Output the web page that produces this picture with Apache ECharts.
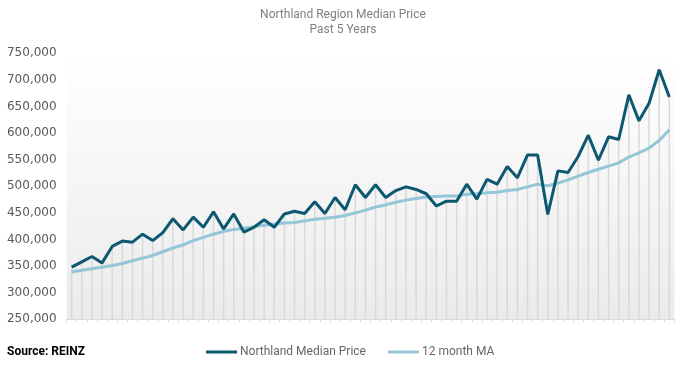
<!DOCTYPE html>
<html>
<head>
<meta charset="utf-8">
<script src="https://cdn.jsdelivr.net/npm/echarts@6/dist/echarts.min.js"></script>
<style>html,body{margin:0;padding:0;background:#fff}#c{width:686px;height:366px}</style>
</head>
<body>
<div id="c"></div>
<script>
const titleText = 'Northland Region Median Price';
const subtitleText = 'Past 5 Years';
const sourceText = 'Source: REINZ';
const seriesNames = ['Northland Median Price', '12 month MA'];
const months = Array.from({length: 60}, (_, i) => 'M' + (i + 1));
const medianPrice = [
  348000, 358000, 368000, 356000, 387000, 397000, 395000, 410000, 398000, 413000,
  439000, 418000, 442000, 423000, 452000, 420000, 448000, 414000, 423000, 437000,
  423000, 448000, 453000, 449000, 471000, 449000, 479000, 456000, 503000, 479000,
  503000, 479000, 492000, 499000, 494000, 486000, 463000, 472000, 472000, 504000,
  476000, 513000, 504000, 537000, 516000, 559000, 559000, 447000, 529000, 526000,
  556000, 596000, 549000, 593000, 588000, 672000, 623000, 656000, 719000, 668000
];
const movingAvg = [
  339000, 342000, 345000, 348000, 351000, 355000, 360000, 365000, 370000, 377000,
  384000, 390000, 398000, 404000, 410000, 415000, 419000, 421000, 424000, 427000,
  429000, 431000, 432000, 435000, 438000, 440000, 442000, 445000, 450000, 455000,
  461000, 465000, 470000, 474000, 477000, 480000, 481000, 482000, 482000, 485000,
  486000, 488000, 489000, 492000, 494000, 499000, 504000, 501000, 506000, 512000,
  519000, 526000, 532000, 538000, 544000, 555000, 563000, 572000, 586000, 606000
];
const yTicks = {min: 250000, max: 750000, interval: 50000};

const chart = echarts.init(document.getElementById('c'));
chart.setOption({
  animation: false,
  backgroundColor: '#ffffff',
  title: {
    text: titleText + '\n' + subtitleText,
    left: 'center',
    top: 2,
    textStyle: {fontFamily: 'Roboto', fontSize: 12, fontWeight: 'normal', color: '#808080', lineHeight: 15}
  },
  legend: {
    data: seriesNames,
    left: 201,
    top: 341,
    itemWidth: 31,
    itemHeight: 3,
    itemGap: 22,
    icon: 'rect',
    textStyle: {fontFamily: 'Roboto', fontSize: 12, color: '#666666', padding: [0, 0, 0, -2]}
  },
  graphic: [{
    type: 'text',
    left: 7,
    top: 346,
    style: {text: sourceText, fontFamily: 'Roboto', fontSize: 12, fontWeight: 'bold', fill: '#000'}
  }],
  grid: {
    left: 66.6,
    right: 11.6,
    top: 53.3,
    bottom: 46.7,
    show: true,
    borderWidth: 0,
    backgroundColor: {
      type: 'linear', x: 0, y: 0, x2: 0, y2: 1,
      colorStops: [{offset: 0, color: '#ffffff'}, {offset: 1, color: '#ebebeb'}]
    }
  },
  xAxis: {
    type: 'category',
    data: months,
    boundaryGap: true,
    axisLine: {lineStyle: {color: '#d9d9d9', width: 1}},
    axisTick: {show: true, interval: 0, length: 3, lineStyle: {color: '#d9d9d9'}},
    axisLabel: {show: false, interval: 0},
    splitLine: {show: false}
  },
  yAxis: {
    type: 'value',
    min: yTicks.min,
    max: yTicks.max,
    interval: yTicks.interval,
    axisLine: {show: false},
    axisTick: {show: false},
    splitLine: {show: false},
    axisLabel: {
      fontFamily: 'DejaVu Sans',
      fontSize: 12,
      color: '#595959',
      margin: 10,
      formatter: v => v.toLocaleString('en-US')
    }
  },
  series: [
    {
      type: 'bar',
      data: medianPrice,
      barWidth: 1.5,
      itemStyle: {color: '#d9d9d9'},
      silent: true,
      z: 1
    },
    {
      name: seriesNames[0],
      type: 'line',
      data: medianPrice,
      symbol: 'none',
      lineStyle: {color: '#0c5870', width: 3},
      itemStyle: {color: '#0c5870'},
      z: 4
    },
    {
      name: seriesNames[1],
      type: 'line',
      data: movingAvg,
      symbol: 'none',
      lineStyle: {color: '#93c6d6', width: 3},
      itemStyle: {color: '#93c6d6'},
      z: 3
    }
  ]
});
</script>
</body>
</html>
